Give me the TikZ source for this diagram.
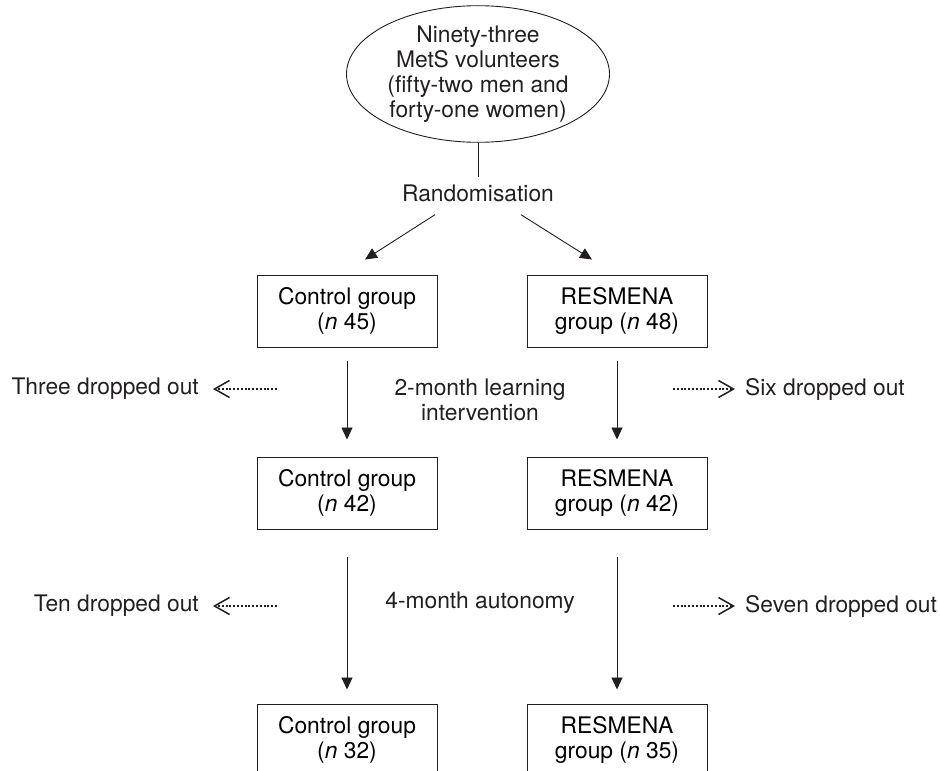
\documentclass[tikz,border=0pt]{standalone}
\usepackage{fontspec}
\setmainfont{TeX Gyre Heros}
\usetikzlibrary{shapes.geometric,arrows.meta}
\definecolor{fc_ink}{HTML}{231F20}

\tikzset{
  grp/.style={draw=fc_ink, line width=1pt, minimum width=180pt, minimum height=72pt, align=center, inner sep=0pt},
  lbl/.style={align=center, inner sep=0pt, text=fc_ink},
  flow/.style={draw=fc_ink, line width=0.9pt, -{Triangle[width=11pt,length=12pt]}},
  drop/.style={draw=fc_ink, line width=1.6pt, dash pattern=on 2pt off 1.8pt, -{Straight Barb[length=15pt,width=17pt,line width=1.5pt]}}
}

\begin{document}
\begin{tikzpicture}[x=1pt, y=-1pt, font=\fontsize{22.8}{25}\selectfont]
            \clip (0,0) rectangle (940,771);

            \node[ellipse, draw=fc_ink, line width=0.9pt, minimum width=263pt, minimum height=129pt, inner sep=0pt, align=center, text=fc_ink] (mets) at (478,74) {Ninety-three\\MetS volunteers\\(fifty-two men and\\forty-one women)};
            \node[lbl, inner sep=7pt] (rand) at (478,193) {Randomisation};

            \node[grp] (ctl1) at (347,311) {Control group\\(\textit{n} 45)};
            \node[grp] (res1) at (617,311) {RESMENA\\group (\textit{n} 48)};
            \node[grp] (ctl2) at (347,493) {Control group\\(\textit{n} 42)};
            \node[grp] (res2) at (617,493) {RESMENA\\group (\textit{n} 42)};
            \node[grp] (ctl3) at (347,740) {Control group\\(\textit{n} 32)};
            \node[grp] (res3) at (617,740) {RESMENA\\group (\textit{n} 35)};

            \node[lbl] (learn) at (480,400) {2-month learning\\intervention};
            \node[lbl] (auto) at (480,603) {4-month autonomy};

            \node[lbl, anchor=east] (ctldrop1) at (199,389) {Three dropped out};
            \node[lbl, anchor=west] (resdrop1) at (745,389) {Six dropped out};
            \node[lbl, anchor=east] (ctldrop2) at (199,606) {Ten dropped out};
            \node[lbl, anchor=west] (resdrop2) at (745,606) {Seven dropped out};

            \coordinate (ctlgap1) at ([xshift=78pt]ctldrop1.east);
            \coordinate (resgap1) at ([xshift=-72pt]resdrop1.west);
            \coordinate (ctlgap2) at ([xshift=78pt]ctldrop2.east);
            \coordinate (resgap2) at ([xshift=-72pt]resdrop2.west);

            \draw[draw=fc_ink, line width=0.9pt] (mets) -- (rand);
            \draw[flow] ([xshift=-43pt,yshift=-6pt]rand.south) -- ([xshift=18pt,yshift=15pt]ctl1.north);
            \draw[flow] ([xshift=43pt,yshift=-6pt]rand.south) -- ([xshift=-25pt,yshift=15pt]res1.north);

            \draw[flow, shorten <=13pt, shorten >=17pt] (ctl1) -- (ctl2);
            \draw[flow, shorten <=13pt, shorten >=17pt] (res1) -- (res2);
            \draw[flow, shorten <=27pt, shorten >=14pt] (ctl2) -- (ctl3);
            \draw[flow, shorten <=27pt, shorten >=14pt] (res2) -- (res3);

            \draw[drop, shorten >=14pt] (ctlgap1) -- (ctldrop1.east);
            \draw[drop, shorten >=10pt] (resgap1) -- (resdrop1.west);
            \draw[drop, shorten >=14pt] (ctlgap2) -- (ctldrop2.east);
            \draw[drop, shorten >=10pt] (resgap2) -- (resdrop2.west);

        \end{tikzpicture}
\end{document}
